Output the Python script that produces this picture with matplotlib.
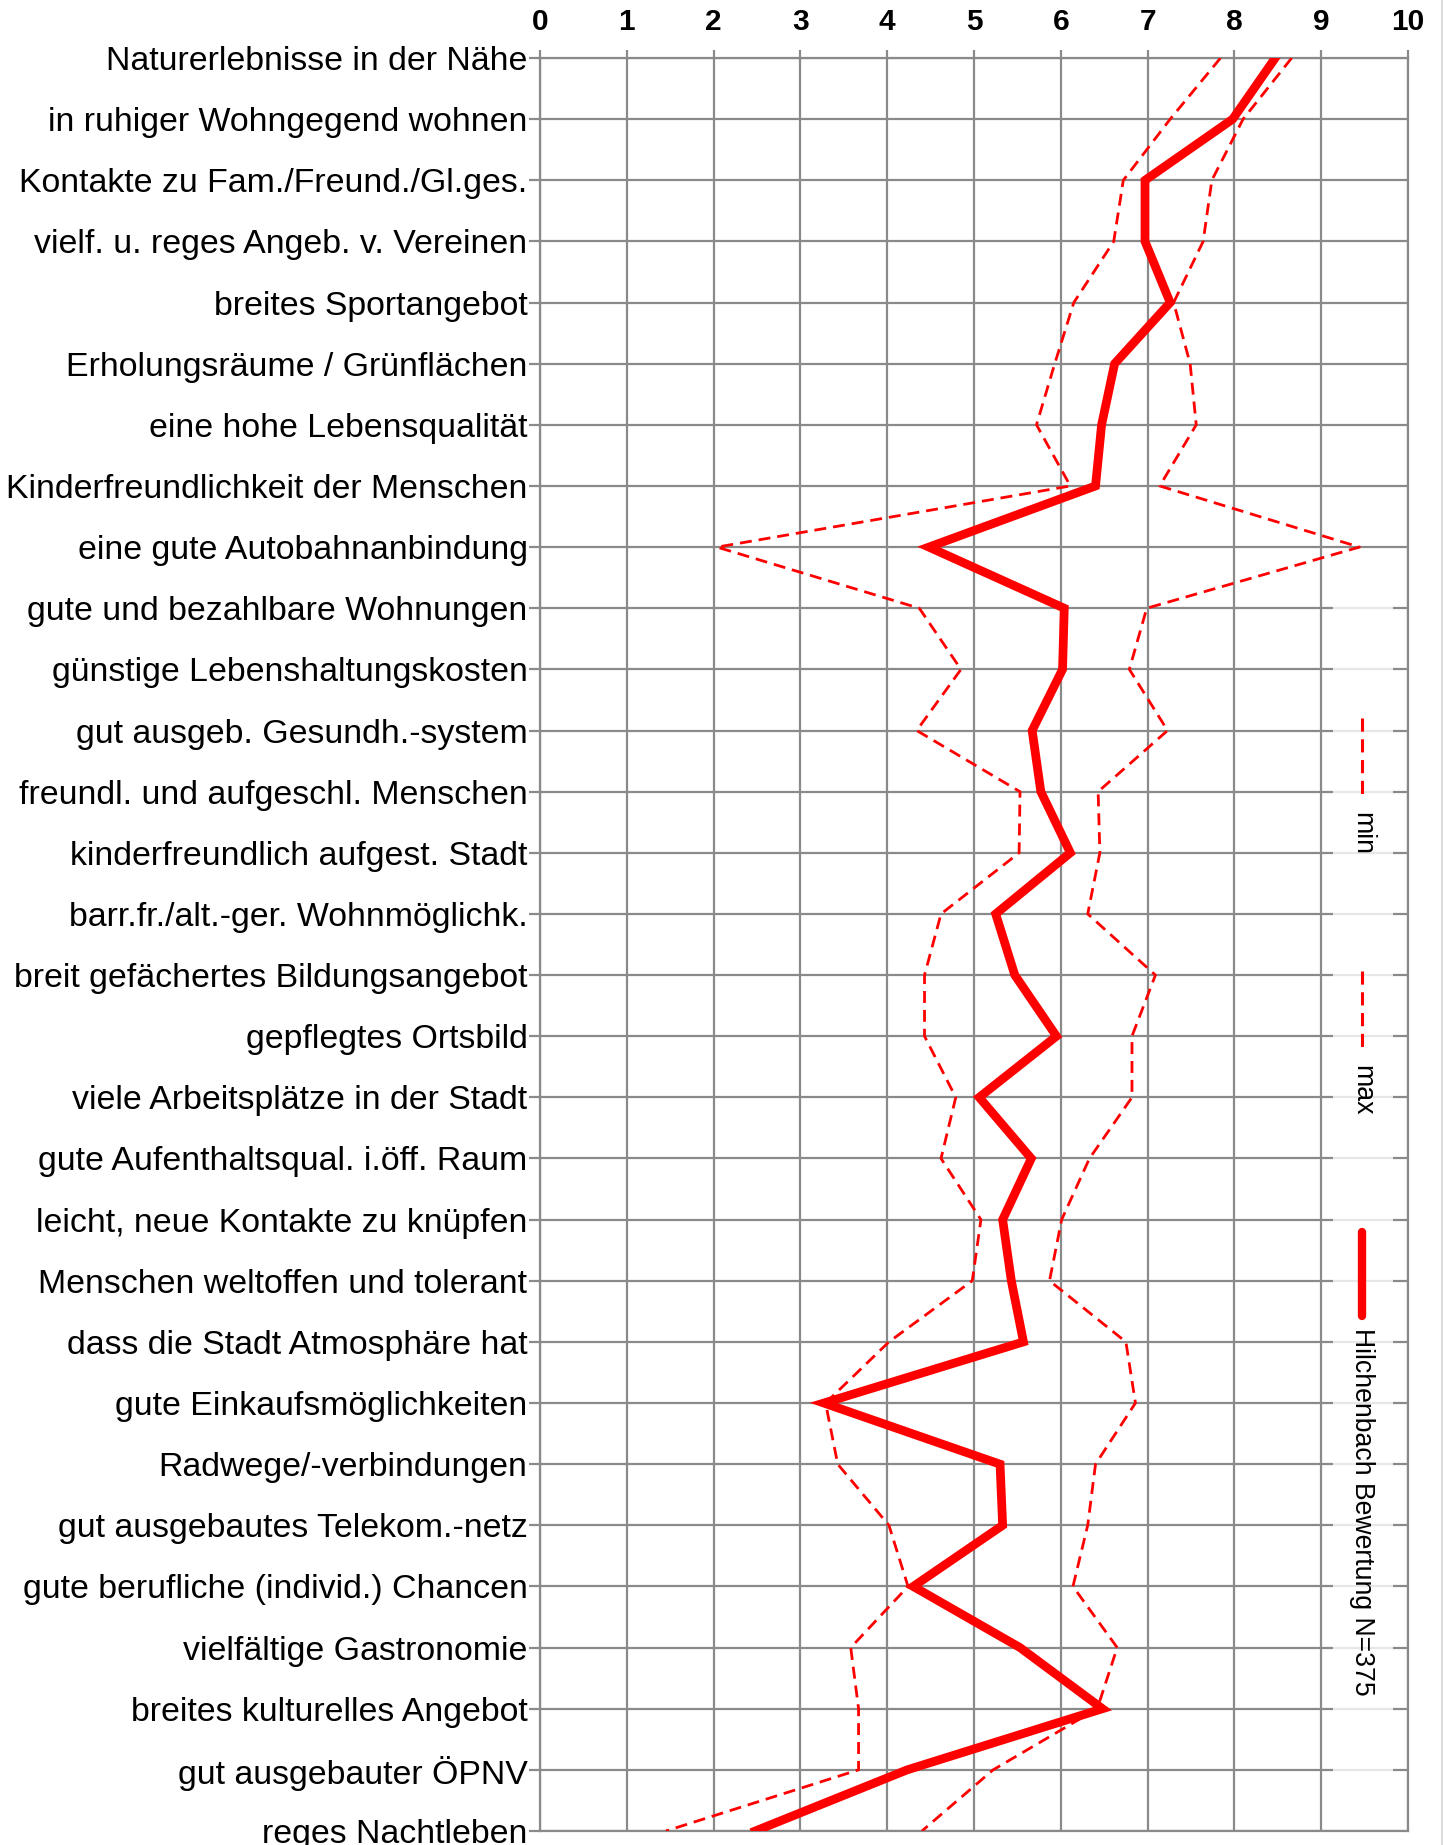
import matplotlib
matplotlib.use("Agg")
import matplotlib.pyplot as plt
from matplotlib.lines import Line2D
from matplotlib.patches import Rectangle

categories = [
    "Naturerlebnisse in der Nähe",
    "in ruhiger Wohngegend wohnen",
    "Kontakte zu Fam./Freund./Gl.ges.",
    "vielf. u. reges Angeb. v. Vereinen",
    "breites Sportangebot",
    "Erholungsräume / Grünflächen",
    "eine hohe Lebensqualität",
    "Kinderfreundlichkeit der Menschen",
    "eine gute Autobahnanbindung",
    "gute und bezahlbare Wohnungen",
    "günstige Lebenshaltungskosten",
    "gut ausgeb. Gesundh.-system",
    "freundl. und aufgeschl. Menschen",
    "kinderfreundlich aufgest. Stadt",
    "barr.fr./alt.-ger. Wohnmöglichk.",
    "breit gefächertes Bildungsangebot",
    "gepflegtes Ortsbild",
    "viele Arbeitsplätze in der Stadt",
    "gute Aufenthaltsqual. i.öff. Raum",
    "leicht, neue Kontakte zu knüpfen",
    "Menschen weltoffen und tolerant",
    "dass die Stadt Atmosphäre hat",
    "gute Einkaufsmöglichkeiten",
    "Radwege/-verbindungen",
    "gut ausgebautes Telekom.-netz",
    "gute berufliche (individ.) Chancen",
    "vielfältige Gastronomie",
    "breites kulturelles Angebot",
    "gut ausgebauter ÖPNV",
    "reges Nachtleben",
]

hilchenbach = [8.47, 7.98, 6.97, 6.97, 7.26, 6.62, 6.47, 6.40, 4.48, 6.04,
               6.02, 5.67, 5.77, 6.11, 5.25, 5.47, 5.95, 5.06, 5.66, 5.33,
               5.43, 5.57, 3.27, 5.30, 5.33, 4.30, 5.53, 6.48, 4.23, 2.48]
minimum = [7.84, 7.26, 6.72, 6.61, 6.15, 5.93, 5.72, 6.11, 2.04, 4.37,
           4.85, 4.34, 5.53, 5.52, 4.62, 4.43, 4.43, 4.79, 4.62, 5.08,
           4.98, 4.02, 3.29, 3.43, 4.02, 4.24, 3.58, 3.67, 3.67, 1.45]
maximum = [8.66, 8.10, 7.74, 7.64, 7.30, 7.49, 7.56, 7.14, 9.44, 6.99,
           6.79, 7.23, 6.43, 6.45, 6.31, 7.09, 6.82, 6.82, 6.33, 6.01,
           5.87, 6.75, 6.86, 6.40, 6.31, 6.14, 6.65, 6.42, 5.22, 4.40]
x_ticks = list(range(0, 11))
legend_labels = ["min", "max", "Hilchenbach Bewertung N=375"]

W, H = 1443, 1845
fig = plt.figure(figsize=(W / 100, H / 100), dpi=100)
fig.patch.set_facecolor("white")

left_px, right_px, top_px, bot_px = 540, 1408, 58, 1831
ax = fig.add_axes([left_px / W, 1 - bot_px / H, (right_px - left_px) / W, (bot_px - top_px) / H])

grid_c = "#8a8a8a"
red = "#ff0000"
pos = list(range(len(categories)))

ax.set_xlim(0, 10)
ax.set_ylim(len(categories) - 1, 0)
ax.set_yticks(pos)
ax.set_yticklabels(categories, family=["Liberation Sans", "DejaVu Sans"], fontsize=24.4)
ax.set_xticks(x_ticks)
ax.set_xticklabels([str(t) for t in x_ticks],
                   family=["Liberation Sans Narrow", "Liberation Sans", "DejaVu Sans"],
                   fontweight="bold", fontsize=21.5)
ax.xaxis.tick_top()
ax.tick_params(axis="x", direction="out", length=6, width=1.6, color=grid_c, pad=10)
ax.tick_params(axis="y", direction="out", length=8, width=1.6, color=grid_c, pad=1)
ax.grid(True, color=grid_c, linewidth=1.6)
ax.set_axisbelow(True)
for s in ax.spines.values():
    s.set_color(grid_c)
    s.set_linewidth(1.6)

dash = (4.3, 2.5)
ax.plot(minimum, pos, color=red, lw=2, linestyle=(0, dash), zorder=3)
ax.plot(maximum, pos, color=red, lw=2, linestyle=(0, dash), zorder=3)
ax.plot(hilchenbach, pos, color=red, lw=6.3, solid_joinstyle="miter", zorder=4)

# semi-transparent legend panel (rotated legend, reading top to bottom)
def fx(px):
    return px / W

def fy(py):
    return 1 - py / H

fig.add_artist(Rectangle((fx(1333), fy(1795)), fx(1393) - fx(1333), fy(590) - fy(1795),
                         transform=fig.transFigure, facecolor="white", alpha=0.8,
                         edgecolor="none", zorder=5))
lx = 1362
fig.add_artist(Line2D([fx(lx), fx(lx)], [fy(718), fy(800)], transform=fig.transFigure,
                      color=red, lw=2.2, linestyle=(0, dash), zorder=6))
fig.add_artist(Line2D([fx(lx), fx(lx)], [fy(971), fy(1053)], transform=fig.transFigure,
                      color=red, lw=2.2, linestyle=(0, dash), zorder=6))
fig.add_artist(Line2D([fx(lx), fx(lx)], [fy(1232), fy(1316)], transform=fig.transFigure,
                      color=red, lw=6, solid_capstyle="round", zorder=6))
leg_font = dict(family=["Liberation Sans", "DejaVu Sans"], fontsize=19.2, rotation=-90,
                ha="center", va="top", transform=fig.transFigure, zorder=7)
fig.text(fx(lx), fy(812), legend_labels[0], **leg_font)
fig.text(fx(lx), fy(1065), legend_labels[1], **leg_font)
fig.text(fx(lx), fy(1328), legend_labels[2], **leg_font)

# thin light border at right edge of the image
fig.add_artist(Line2D([fx(1441.5), fx(1441.5)], [0, 1], transform=fig.transFigure,
                      color="#d4d4d4", lw=1.2))

fig.savefig("out.png", dpi=100, facecolor="white")
